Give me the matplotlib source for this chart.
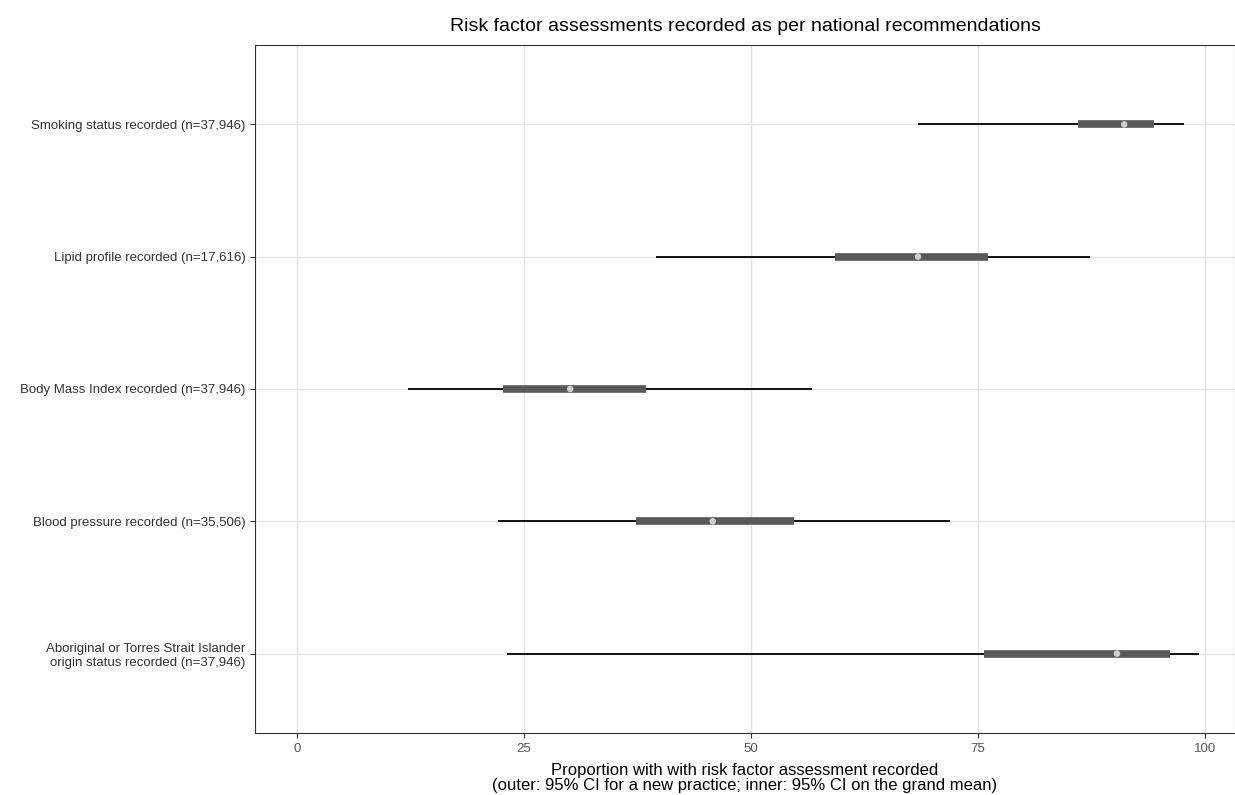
import matplotlib.pyplot as plt

labels = [
    "Aboriginal or Torres Strait Islander\norigin status recorded (n=37,946)",
    "Blood pressure recorded (n=35,506)",
    "Body Mass Index recorded (n=37,946)",
    "Lipid profile recorded (n=17,616)",
    "Smoking status recorded (n=37,946)",
]
outer_lo = [23.2, 22.1, 12.2, 39.6, 68.4]
outer_hi = [99.3, 71.9, 56.7, 87.3, 97.7]
inner_lo = [75.7, 37.4, 22.7, 59.3, 86.0]
inner_hi = [96.1, 54.8, 38.4, 76.1, 94.4]
mean = [90.3, 45.8, 30.1, 68.4, 91.1]

plt.rcParams['font.family'] = 'Liberation Sans'
fig = plt.figure(figsize=(12.35, 7.95), dpi=100)
ax = fig.add_axes([255 / 1235, 1 - 733 / 795, 980 / 1235, 688 / 795])

y = list(range(1, len(labels) + 1))
ax.hlines(y, outer_lo, outer_hi, color='black', linewidth=1.3, zorder=3)
ax.hlines(y, inner_lo, inner_hi, color='#595959', linewidth=5.5, zorder=4)
ax.scatter(mean, y, s=22, color='#cfcfcf', zorder=5, edgecolors='none')

ax.set_xlim(-4.6, 103.3)
ax.set_ylim(0.4, 5.6)
ax.set_xticks([0, 25, 50, 75, 100])
ax.set_yticks(y)
ax.set_yticklabels(labels, fontsize=9.5, color='#333333')
ax.tick_params(axis='x', labelsize=9.5, labelcolor='#555555', color='#333333')
ax.tick_params(axis='y', color='#333333')
ax.grid(True, color='#e5e5e5', linewidth=1.0)
ax.set_axisbelow(True)
for s in ax.spines.values():
    s.set_color('#333333')
    s.set_linewidth(0.8)

ax.set_title("Risk factor assessments recorded as per national recommendations",
             fontsize=14, pad=10)
ax.set_xlabel("Proportion with with risk factor assessment recorded\n"
              "(outer: 95% CI for a new practice; inner: 95% CI on the grand mean)",
              fontsize=12, labelpad=6, linespacing=1.0)

fig.savefig('out.png', dpi=100, facecolor='white')
